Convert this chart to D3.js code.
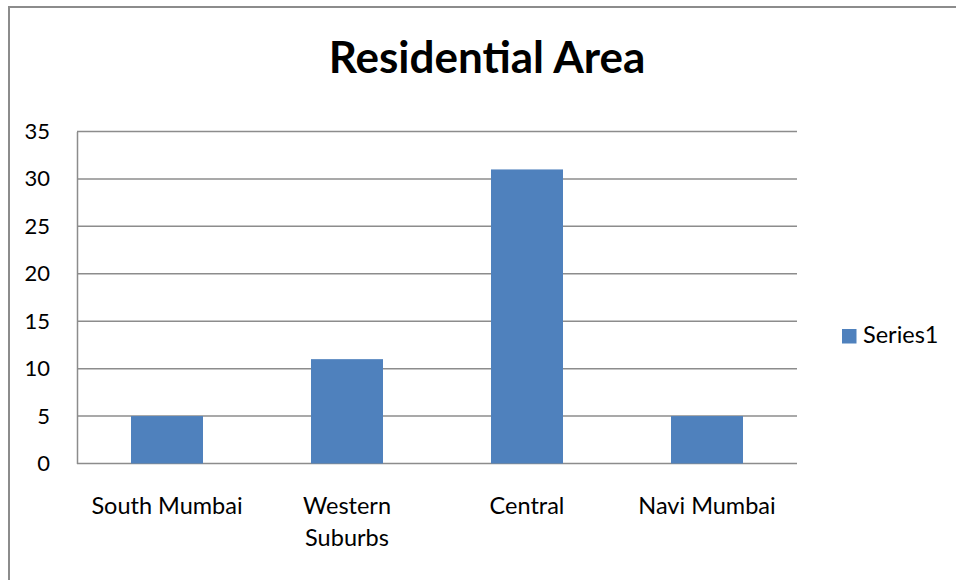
<!DOCTYPE html>
<html>
<head>
<meta charset="utf-8">
<script src="https://cdn.jsdelivr.net/npm/d3@7"></script>
<style>
  html, body { margin: 0; padding: 0; background: #fff; }
  svg { display: block; font-family: Lato, "Open Sans", "Noto Sans", sans-serif; }
</style>
</head>
<body>
<svg id="chart" width="956" height="580"></svg>
<script>
// Residential area by region
const categories = ["South Mumbai", "Western Suburbs", "Central", "Navi Mumbai"];
const series1 = [5, 11, 31, 5];
const yTicks = [0, 5, 10, 15, 20, 25, 30, 35];
const seriesName = "Series1";
const title = "Residential Area";

const svg = d3.select("#chart");
const W = 956, H = 580;
const plot = { left: 77, right: 797, top: 131.5, bottom: 463.5 };
const barColor = "#4F81BD";
const gridColor = "#8c8c8c";

// outer chart frame
svg.append("rect")
  .attr("x", 9).attr("y", 7)
  .attr("width", W + 10).attr("height", H + 10)
  .attr("fill", "none").attr("stroke", "#8c8c8c").attr("stroke-width", 2);

const x = d3.scaleBand().domain(categories).range([plot.left, plot.right])
  .paddingInner(0.6).paddingOuter(0.3);
const y = d3.scaleLinear().domain([0, 35]).range([plot.bottom, plot.top]);

// horizontal gridlines
svg.append("g").selectAll("line").data(yTicks).join("line")
  .attr("x1", plot.left).attr("x2", plot.right)
  .attr("y1", d => y(d)).attr("y2", d => y(d))
  .attr("stroke", gridColor).attr("stroke-width", 1.5);

// value axis
const yAxis = svg.append("g")
  .attr("transform", `translate(${plot.left},0)`)
  .call(d3.axisLeft(y).tickValues(yTicks).tickSize(0).tickPadding(27));
yAxis.select(".domain").attr("stroke", gridColor).attr("stroke-width", 1.5);
yAxis.selectAll("text").attr("font-size", 22).attr("fill", "#000")
  .attr("font-family", "Lato, 'Open Sans', sans-serif");

// bars
svg.append("g").selectAll("rect").data(series1).join("rect")
  .attr("x", (d, i) => x(categories[i]))
  .attr("width", x.bandwidth())
  .attr("y", d => y(d))
  .attr("height", d => y(0) - y(d))
  .attr("fill", barColor);

// category labels (wrapped to the band width)
const catG = svg.append("g");
categories.forEach(c => {
  const cx = x(c) + x.bandwidth() / 2;
  const lines = (c === "Western Suburbs") ? c.split(" ") : [c];
  lines.forEach((ln, j) => {
    catG.append("text")
      .attr("x", cx).attr("y", 514 + j * 32)
      .attr("text-anchor", "middle")
      .attr("font-size", 23.5).attr("fill", "#000")
      .text(ln);
  });
});

// title
svg.append("text")
  .attr("x", 487).attr("y", 73)
  .attr("text-anchor", "middle")
  .attr("font-size", 44).attr("font-weight", "bold").attr("fill", "#000")
  .text(title);

// legend
svg.append("rect").attr("x", 842).attr("y", 329).attr("width", 14.5).attr("height", 14.5)
  .attr("fill", barColor);
svg.append("text").attr("x", 863).attr("y", 343)
  .attr("font-size", 23.5).attr("fill", "#000").text(seriesName);
</script>
</body>
</html>
